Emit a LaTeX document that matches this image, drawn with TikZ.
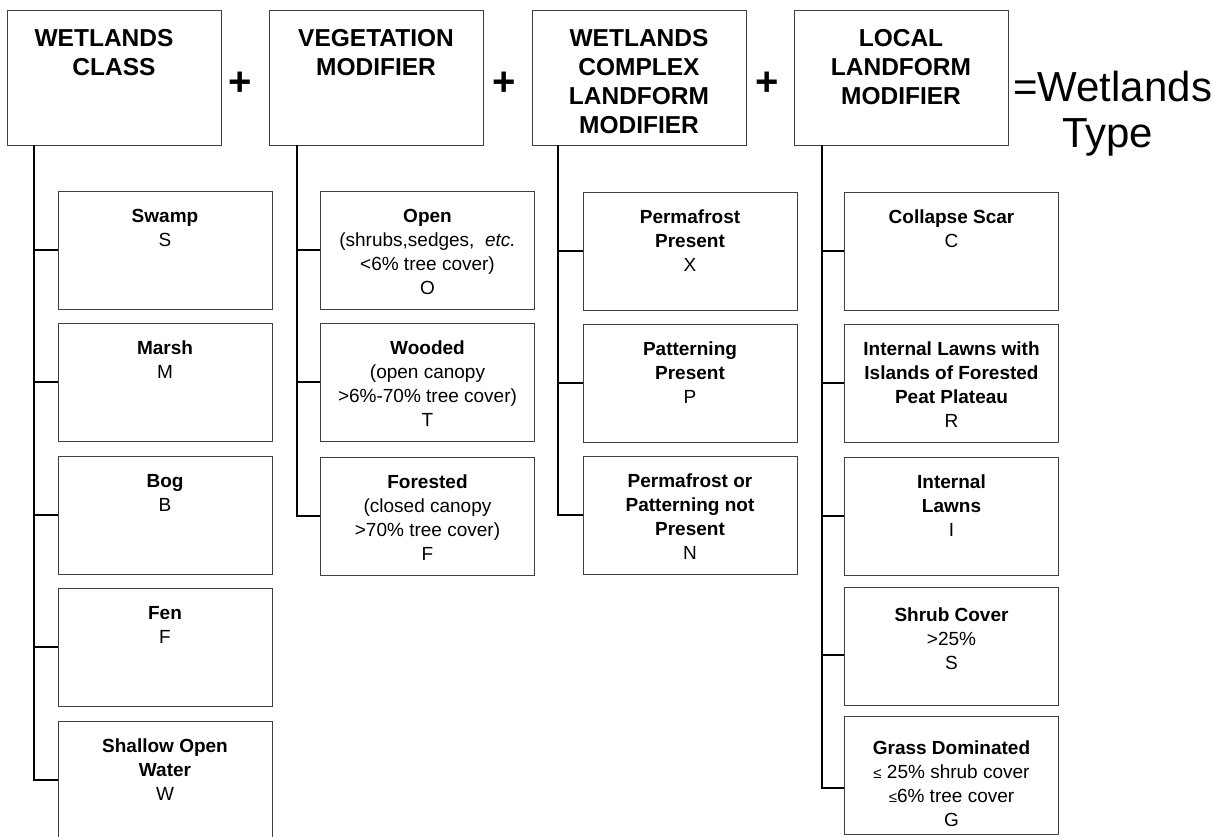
\documentclass[tikz,border=0pt]{standalone}
\usepackage{fontspec}
\setmainfont{Liberation Sans}
\begin{document}
\begin{tikzpicture}[x=1pt,y=-1pt,
  topbox/.style={draw=black!75, line width=0.9pt, minimum width=214pt, minimum height=135pt, inner sep=0pt},
  subbox/.style={draw=black!75, line width=0.9pt, minimum width=214pt, minimum height=118pt, inner sep=0pt},
  toptext/.style={font=\fontsize{24.5}{29}\selectfont\bfseries, align=center, inner sep=0pt, anchor=north},
  subtext/.style={font=\fontsize{19}{24}\selectfont, align=center, inner sep=0pt, anchor=north},
  conn/.style={line width=1.8pt, black},
  plussign/.style={font=\fontsize{40}{40}\selectfont\bfseries, inner sep=0pt},
  result/.style={font=\fontsize{42}{42}\selectfont, inner sep=0pt, anchor=base west}]
\useasboundingbox (0,0) rectangle (1228,836);

% top boxes
\node[topbox] (T1) at (114,77.5) {};
\node[topbox] (T2) at (376,77.5) {};
\node[topbox] (T3) at (639,77.5) {};
\node[topbox] (T4) at (901,77.5) {};
\node[toptext] (T1t) at ([yshift=-16.7pt]T1.north) {\strut WETLANDS\hspace*{20pt}\\CLASS};
\node[toptext] (T2t) at ([yshift=-16.7pt]T2.north) {\strut VEGETATION\\MODIFIER};
\node[toptext] (T3t) at ([yshift=-16.7pt]T3.north) {\strut WETLANDS\\COMPLEX\\LANDFORM\\MODIFIER};
\node[toptext] (T4t) at ([yshift=-16.7pt]T4.north) {\strut LOCAL\\LANDFORM\\MODIFIER};

\node[plussign] (P1) at (240,84) {+};
\node[plussign] (P2) at (504,84) {+};
\node[plussign] (P3) at (767,84) {+};
\node[result] (R1) at (1013,101) {=Wetlands};
\node[result] (R2) at (1062,147) {Type};

% column 1
\node[subbox] (s1) at (165,250) {};
\node[subbox] (s2) at (165,382) {};
\node[subbox] (s3) at (165,515) {};
\node[subbox] (s4) at (165,647) {};
\node[subbox] (s5) at (165,780) {};
\node[subtext] (s1t) at ([yshift=-15pt]s1.north) {\strut\textbf{Swamp}\\S};
\node[subtext] (s2t) at ([yshift=-15pt]s2.north) {\strut\textbf{Marsh}\\M};
\node[subtext] (s3t) at ([yshift=-15pt]s3.north) {\strut\textbf{Bog}\\B};
\node[subtext] (s4t) at ([yshift=-15pt]s4.north) {\strut\textbf{Fen}\\F};
\node[subtext] (s5t) at ([yshift=-15pt]s5.north) {\strut\textbf{Shallow Open}\\\textbf{Water}\\W};

% column 2
\node[subbox] (v1) at (427.5,250) {};
\node[subbox] (v2) at (427.5,382) {};
\node[subbox] (v3) at (427.5,516) {};
\node[subtext] (v1t) at ([yshift=-15pt]v1.north) {\strut\textbf{Open}\\(shrubs,sedges,\ \ \textit{etc.}\\<6\% tree cover)\\O};
\node[subtext] (v2t) at ([yshift=-15pt]v2.north) {\strut\textbf{Wooded}\\(open canopy\\>6\%-70\% tree cover)\\T};
\node[subtext] (v3t) at ([yshift=-15pt]v3.north) {\strut\textbf{Forested}\\(closed canopy\\>70\% tree cover)\\F};

% column 3
\node[subbox] (p1) at (690,251) {};
\node[subbox] (p2) at (690,383) {};
\node[subbox] (p3) at (690,515) {};
\node[subtext] (p1t) at ([yshift=-15pt]p1.north) {\strut\textbf{Permafrost}\\\textbf{Present}\\X};
\node[subtext] (p2t) at ([yshift=-15pt]p2.north) {\strut\textbf{Patterning}\\\textbf{Present}\\P};
\node[subtext] (p3t) at ([yshift=-15pt]p3.north) {\strut\textbf{Permafrost or}\\\textbf{Patterning not}\\\textbf{Present}\\N};

% column 4
\node[subbox] (g1) at (951.5,251) {};
\node[subbox] (g2) at (951.5,383) {};
\node[subbox] (g3) at (951.5,516) {};
\node[subbox] (g4) at (951.5,646) {};
\node[subbox] (g5) at (951.5,775) {};
\node[subtext] (g1t) at ([yshift=-15pt]g1.north) {\strut\textbf{Collapse Scar}\\C};
\node[subtext] (g2t) at ([yshift=-15pt]g2.north) {\strut\textbf{Internal Lawns with}\\\textbf{Islands of Forested}\\\textbf{Peat Plateau}\\R};
\node[subtext] (g3t) at ([yshift=-15pt]g3.north) {\strut\textbf{Internal}\\\textbf{Lawns}\\I};
\node[subtext] (g4t) at ([yshift=-18pt]g4.north) {\strut\textbf{Shrub Cover}\\>25\%\\S};
\node[subtext] (g5t) at ([yshift=-22pt]g5.north) {\strut\textbf{Grass Dominated}\\{\fontsize{15}{15}\selectfont ≤} 25\% shrub cover\\{\fontsize{15}{15}\selectfont ≤}6\% tree cover\\G};

% connectors
\coordinate (k1) at ([xshift=-80pt]T1.south);
\coordinate (k2) at ([xshift=-79pt]T2.south);
\coordinate (k3) at ([xshift=-81pt]T3.south);
\coordinate (k4) at ([xshift=-79pt]T4.south);

\draw[conn] (k1) |- (s5.west);
\foreach \n in {s1,s2,s3,s4} \draw[conn] (\n.west) -- (\n.west -| k1);
\draw[conn] (k2) |- (v3.west);
\foreach \n in {v1,v2} \draw[conn] (\n.west) -- (\n.west -| k2);
\draw[conn] (k3) |- (p3.west);
\foreach \n in {p1,p2} \draw[conn] (\n.west) -- (\n.west -| k3);
\draw[conn] (k4) |- ([yshift=-13pt]g5.west);
\foreach \n in {g1,g2,g3} \draw[conn] (\n.west) -- (\n.west -| k4);
\draw[conn] ([yshift=-9pt]g4.west) -- ([yshift=-9pt]g4.west -| k4);
\end{tikzpicture}
\end{document}
